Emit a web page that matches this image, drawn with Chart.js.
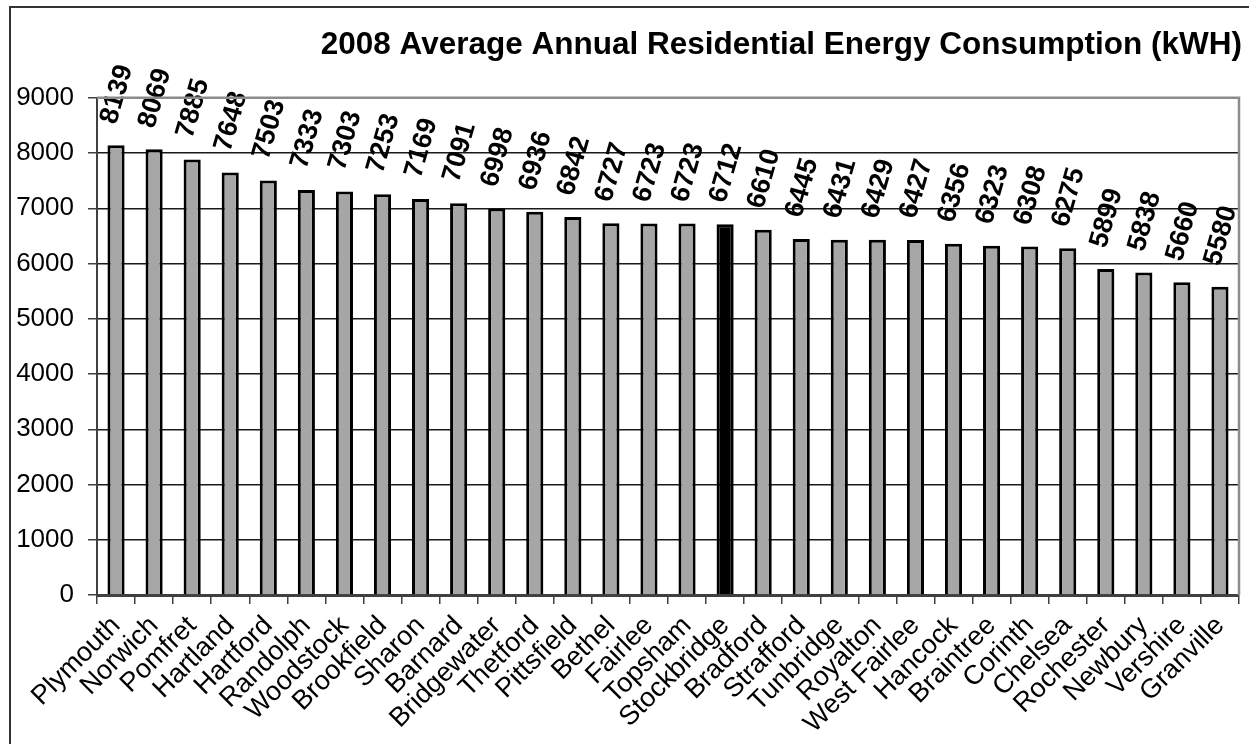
<!DOCTYPE html>
<html>
<head>
<meta charset="utf-8">
<script src="https://cdn.jsdelivr.net/npm/chart.js@4/dist/chart.umd.min.js"></script>
<style>
  body { margin: 0; background: #fff; }
  canvas { display: block; }
</style>
</head>
<body>
<canvas id="energyChart" width="1249" height="744"></canvas>
<script>
// Town names and 2008 average residential consumption (kWH)
const towns = ['Plymouth', 'Norwich', 'Pomfret', 'Hartland', 'Hartford', 'Randolph', 'Woodstock',
    'Brookfield', 'Sharon', 'Barnard', 'Bridgewater', 'Thetford', 'Pittsfield', 'Bethel', 'Fairlee',
    'Topsham', 'Stockbridge', 'Bradford', 'Strafford', 'Tunbridge', 'Royalton', 'West Fairlee',
    'Hancock', 'Braintree', 'Corinth', 'Chelsea', 'Rochester', 'Newbury', 'Vershire', 'Granville'];
const consumption = [8139, 8069, 7885, 7648, 7503, 7333, 7303, 7253, 7169, 7091, 6998, 6936, 6842,
    6727, 6723, 6723, 6712, 6610, 6445, 6431, 6429, 6427, 6356, 6323, 6308, 6275, 5899, 5838, 5660, 5580];
const highlightTown = 'Stockbridge';
const yTicks = [0, 1000, 2000, 3000, 4000, 5000, 6000, 7000, 8000, 9000];

const FONT = '"Liberation Sans", Arial, sans-serif';

// rotated value labels above each bar
const valueLabels = {
    id: 'valueLabels',
    afterDatasetsDraw(chart) {
        const ctx = chart.ctx;
        const meta = chart.getDatasetMeta(0);
        ctx.save();
        ctx.font = 'bold 27px ' + FONT;
        ctx.fillStyle = '#000';
        ctx.textAlign = 'center';
        ctx.textBaseline = 'middle';
        meta.data.forEach((bar, i) => {
            ctx.save();
            ctx.translate(bar.x + 1, bar.y - 51);
            ctx.rotate(-74 * Math.PI / 180);
            ctx.fillText(String(consumption[i]), 0, 0);
            ctx.restore();
        });
        ctx.restore();
    }
};

// gray frame on top/right of plot + outer chart border
const frames = {
    id: 'frames',
    afterDraw(chart) {
        const ctx = chart.ctx;
        const a = chart.chartArea;
        ctx.save();
        ctx.strokeStyle = '#8c8c8c';
        ctx.lineWidth = 2.5;
        ctx.beginPath();
        ctx.moveTo(a.left, a.top);
        ctx.lineTo(a.right, a.top);
        ctx.lineTo(a.right, a.bottom);
        ctx.stroke();
        ctx.strokeStyle = '#333';
        ctx.lineWidth = 2;
        ctx.strokeRect(10, 7, chart.width + 20, chart.height + 20);
        ctx.restore();
    }
};

const ctx = document.getElementById('energyChart').getContext('2d');
new Chart(ctx, {
    type: 'bar',
    data: {
        labels: towns,
        datasets: [{
            data: consumption,
            backgroundColor: towns.map(t => t === highlightTown ? '#000' : '#a6a6a6'),
            borderColor: '#000',
            borderWidth: 3,
            barPercentage: 0.45,
            categoryPercentage: 1.0
        }]
    },
    options: {
        responsive: false,
        animation: false,
        devicePixelRatio: 1,
        layout: { padding: { left: 0, right: 7, top: 26, bottom: 0 } },
        scales: {
            x: {
                afterFit: s => { s.height = 149; },
                grid: {
                    offset: true,
                    drawOnChartArea: false,
                    tickLength: 9,
                    tickColor: '#404040',
                    lineWidth: 1.5
                },
                border: { color: '#404040', width: 3 },
                ticks: {
                    autoSkip: false,
                    maxRotation: 45,
                    minRotation: 45,
                    padding: 6,
                    color: '#000',
                    font: { family: FONT, size: 27 }
                }
            },
            y: {
                min: 0,
                max: 9000,
                afterFit: s => { s.width = 97; },
                afterBuildTicks: s => { s.ticks = yTicks.map(v => ({ value: v })); },
                grid: {
                    color: c => (c.tick && c.tick.value === 9000) ? '#8c8c8c' : '#1a1a1a',
                    lineWidth: 1.5,
                    tickLength: 9,
                    tickColor: '#404040'
                },
                border: { color: '#404040', width: 2 },
                ticks: {
                    padding: 14,
                    color: '#000',
                    font: { family: FONT, size: 26 },
                    callback: v => String(v)
                }
            }
        },
        plugins: {
            legend: { display: false },
            tooltip: { enabled: false },
            title: {
                display: true,
                text: '2008 Average Annual Residential Energy Consumption (kWH)',
                align: 'end',
                color: '#000',
                font: { family: FONT, size: 31.5, weight: 'bold' },
                padding: { top: 0, bottom: 34 }
            }
        }
    },
    plugins: [valueLabels, frames]
});
</script>
</body>
</html>
